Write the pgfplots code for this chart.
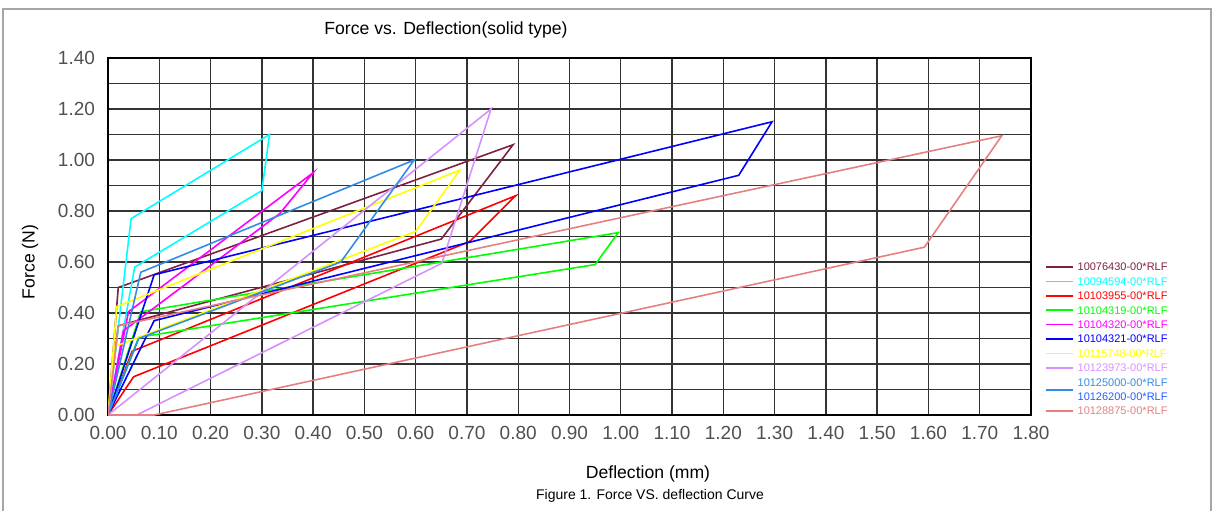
\documentclass[border=0pt]{standalone}
\usepackage{pgfplots}
\pgfplotsset{compat=1.18}
\usepackage{fontspec}
\setmainfont{Liberation Sans}

\definecolor{cMaroon}{RGB}{128,32,64}
\definecolor{cCyan}{RGB}{0,255,255}
\definecolor{cRed}{RGB}{255,0,0}
\definecolor{cGreen}{RGB}{0,255,0}
\definecolor{cMagenta}{RGB}{255,0,255}
\definecolor{cBlue}{RGB}{0,0,255}
\definecolor{cYellow}{RGB}{255,255,0}
\definecolor{cViolet}{RGB}{215,145,255}
\definecolor{cMidBlue}{RGB}{50,140,230}
\definecolor{cBlueTxt}{RGB}{32,96,255}
\definecolor{cSalmon}{RGB}{230,128,128}
\definecolor{tickgray}{RGB}{80,80,80}

\pgfplotsset{
  shortline/.style={legend image code/.code={\draw[##1,line width=0.8pt] (0pt,0pt) -- (13.5pt,0pt);}},
  lowline/.style={legend image code/.code={\path[draw=none,fill=none] (0pt,0pt) -- (13.5pt,0pt); \draw[##1,line width=0.8pt,overlay] (0pt,-4pt) -- (13.5pt,-4pt);}},
}

\begin{document}
\begin{tikzpicture}
\useasboundingbox (0pt,0pt) rectangle (609pt,255pt);
% outer frame
\draw[gray!70, line width=0.7pt] (1.5pt,-2pt) -- (1.5pt,250.5pt) -- (605.5pt,250.5pt) -- (605.5pt,-2pt);

\begin{axis}[
    at={(54pt,47.5pt)}, anchor=south west,
    scale only axis,
    width=461.5pt, height=178.5pt,
    xmin=0, xmax=1.8, ymin=0, ymax=1.4,
    xtick={0,0.1,0.2,0.3,0.4,0.5,0.6,0.7,0.8,0.9,1.0,1.1,1.2,1.3,1.4,1.5,1.6,1.7,1.8},
    xticklabels={0.00,0.10,0.20,0.30,0.40,0.50,0.60,0.70,0.80,0.90,1.00,1.10,1.20,1.30,1.40,1.50,1.60,1.70,1.80},
    ytick={0,0.2,0.4,0.6,0.8,1.0,1.2,1.4},
    yticklabels={0.00,0.20,0.40,0.60,0.80,1.00,1.20,1.40},
    minor ytick={0.1,0.3,0.5,0.7,0.9,1.1,1.3},
    xmajorgrids=true, ymajorgrids=true, yminorgrids=true,
    major grid style={black!80, line width=0.7pt},
    minor grid style={black!80, line width=0.7pt},
    axis line style={black, line width=0.7pt},
    major tick length=0pt, minor tick length=0pt,
    tick label style={font=\fontsize{9.5}{10}\selectfont, text=tickgray},
    xticklabel style={yshift=-2pt},
    yticklabel style={xshift=-3pt},
    every axis plot/.append style={line width=0.8pt, no marks, sharp plot},
    shortline,
    legend cell align=left,
    legend style={draw=none, fill=none, inner sep=0pt, outer sep=0pt,
        at={(1.0152,0.4286)}, anchor=north west,
        font=\fontsize{5.5}{6}\selectfont,
        row sep=2.2pt, column sep=1.5pt,
        nodes={inner sep=0.5pt, text height=4pt, text depth=0pt}},
]
\addplot[cMaroon] coordinates {(0,0) (0.02,0.50) (0.79,1.06) (0.65,0.69) (0.02,0.35) (0,0)};
\addlegendentry{\textcolor{cMaroon}{10076430-00*RLF}}
\addplot[cCyan] coordinates {(0,0) (0.045,0.77) (0.315,1.10) (0.30,0.88) (0.052,0.58) (0,0)};
\addlegendentry{\textcolor{cCyan}{10094594-00*RLF}}
\addplot[cRed] coordinates {(0,0) (0.05,0.15) (0.705,0.68) (0.795,0.86) (0.047,0.25) (0,0)};
\addlegendentry{\textcolor{cRed}{10103955-00*RLF}}
\addplot[cGreen] coordinates {(0,0) (0.064,0.405) (0.995,0.715) (0.95,0.59) (0.06,0.305) (0,0)};
\addlegendentry{\textcolor{cGreen}{10104319-00*RLF}}
\addplot[cMagenta] coordinates {(0,0) (0.04,0.405) (0.40,0.95) (0.335,0.79) (0.03,0.33) (0,0)};
\addlegendentry{\textcolor{cMagenta}{10104320-00*RLF}}
\addplot[cBlue] coordinates {(0,0) (0.09,0.55) (1.295,1.15) (1.23,0.94) (0.09,0.37) (0,0)};
\addlegendentry{\textcolor{cBlue}{10104321-00*RLF}}
\addplot[cYellow] coordinates {(0,0) (0.017,0.425) (0.686,0.96) (0.60,0.72) (0.015,0.27) (0,0)};
\addlegendentry{\textcolor{cYellow}{10115748-00*RLF}}
\addplot[cViolet] coordinates {(0,0) (0.747,1.20) (0.651,0.595) (0.056,0) (0,0)};
\addlegendentry{\textcolor{cViolet}{10123973-00*RLF}}
\addplot[cMidBlue, lowline]
    coordinates {(0,0) (0.064,0.56) (0.597,1.00) (0.454,0.60) (0.06,0.30) (0,0)};
\addlegendentry{\textcolor{cMidBlue}{10125000-00*RLF}}
\addlegendimage{empty legend}
\addlegendentry{\textcolor{cBlueTxt}{10126200-00*RLF}}
\addplot[cSalmon] coordinates {(0,0) (0.02,0.35) (1.743,1.095) (1.592,0.658) (0.09,0) (0,0)};
\addlegendentry{\textcolor{cSalmon}{10128875-00*RLF}}
\end{axis}

\node[font=\fontsize{8.8}{10}\selectfont] at (223pt,240pt) {Force vs. Deflection(solid type)};
\node[font=\fontsize{8.8}{10}\selectfont, rotate=90] at (15pt,124pt) {Force (N)};
\node[font=\fontsize{8.8}{10}\selectfont] at (324pt,18pt) {Deflection (mm)};
\node[font=\fontsize{7}{8}\selectfont] at (325pt,7pt) {Figure 1. Force VS. deflection Curve};
\end{tikzpicture}
\end{document}
